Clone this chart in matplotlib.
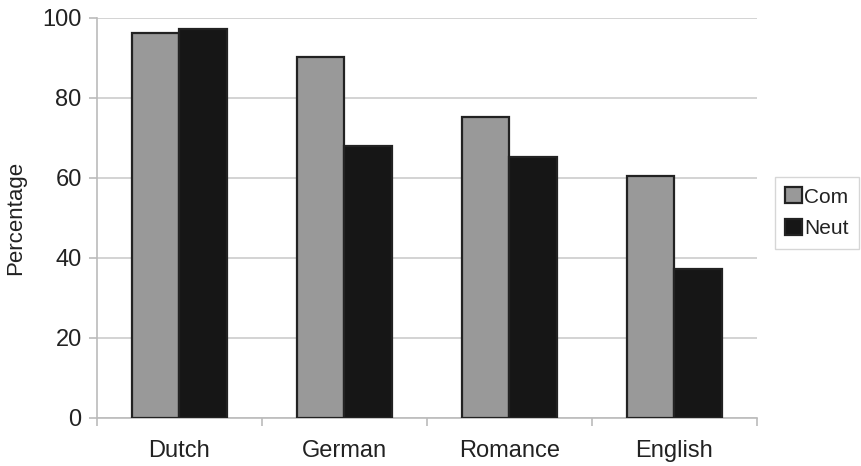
import numpy as np
import matplotlib.pyplot as plt

plt.rcParams['font.family'] = ['Liberation Sans', 'DejaVu Sans']

categories = ['Dutch', 'German', 'Romance', 'English']
com = [96.2, 90.3, 75.2, 60.5]
neut = [97.2, 68.1, 65.2, 37.3]
y_ticks = [0, 20, 40, 60, 80, 100]

fig = plt.figure(figsize=(8.62, 4.66), dpi=100)
ax = fig.add_axes([97 / 862, 48 / 466, 660 / 862, 400 / 466])

x = np.arange(len(categories))
w = 0.287
ax.bar(x - w / 2, com, w, color='#999999', edgecolor='#222222', linewidth=1.6, label='Com', zorder=3)
ax.bar(x + w / 2, neut, w, color='#161616', edgecolor='#222222', linewidth=1.6, label='Neut', zorder=3)

ax.set_xlim(-0.5, len(categories) - 0.5)
ax.set_ylim(0, 100)
ax.set_yticks(y_ticks)
ax.yaxis.grid(True, color='#cccccc', linewidth=1.2, zorder=0)
ax.set_xticks(x)
ax.set_xticklabels(categories)
ax.set_xticks(np.arange(len(categories) + 1) - 0.5, minor=True)
ax.tick_params(axis='x', which='major', length=0, pad=16, labelsize=17, labelcolor='#222222')
ax.tick_params(axis='x', which='minor', length=6, color='#bbbbbb', width=1.2)
ax.tick_params(axis='y', length=6, color='#bbbbbb', width=1.2, labelsize=17, pad=5, labelcolor='#222222')
for s in ['top', 'right']:
    ax.spines[s].set_visible(False)
for s in ['left', 'bottom']:
    ax.spines[s].set_color('#bbbbbb')
    ax.spines[s].set_linewidth(1.2)
ax.set_ylabel('Percentage', fontsize=16, labelpad=12, color='#222222')

leg = fig.legend(loc='upper left', bbox_to_anchor=(775 / 862, 1 - 177 / 466), fontsize=15,
                 handlelength=0.8, handleheight=0.8, handletextpad=0.1, borderpad=0.5,
                 labelspacing=0.6, fancybox=False, borderaxespad=0)
leg.get_frame().set_edgecolor('#cccccc')
leg.get_frame().set_linewidth(1.0)
for t in leg.get_texts():
    t.set_color('#222222')

fig.savefig('out.png', dpi=100)
